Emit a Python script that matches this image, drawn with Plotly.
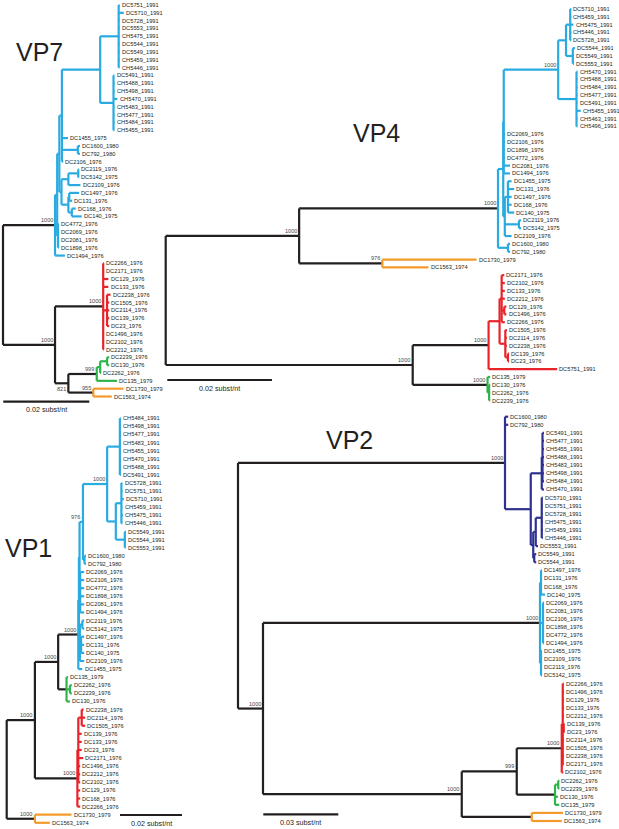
import re
import plotly.graph_objects as go

W, H = 619, 829

# ---------------- data: four trees in extended Newick ----------------
# branch lengths in substitutions/nt, internal labels = bootstrap support,
# [&c=...] marks the clade whose interior is coloured
VP7_TREE = """
(
 (
  (
   (
    (
     ((DC5751_1991:0.0002,DC5710_1991:0.0012,DC5728_1991:0.0002,DC5553_1991:0.0002,CH5475_1991:0.0002,
       DC5544_1991:0.0002,DC5549_1991:0.0002,CH5459_1991:0.0002,CH5446_1991:0.0002):0.0043,
      (DC5491_1991:0.0002,CH5488_1991:0.0002,CH5498_1991:0.0002,CH5470_1991:0.0009,CH5483_1991:0.0002,
       CH5477_1991:0.0002,CH5484_1991:0.0002,CH5455_1991:0.0002):0.0031):0.0089,
     DC1455_1975:0.0014,
     (DC1600_1980:0.0005,DC792_1980:0.0005):0.0037,
     DC2106_1976:0.0003
    ):0.0006,
    (
     ((DC2119_1976:0.0002,DC5142_1975:0.0002):0.0023,DC2109_1976:0.0028):0.0016,
     ((DC1497_1976:0.0023,DC131_1976:0.0007):0.0002,(DC168_1976:0.0009,DC140_1975:0.0023):0.0008):0.0016
    ):0.0005
   ):0.0005,
   (DC4772_1976:0.0002,DC2069_1976:0.0002,DC2081_1976:0.0002,DC1898_1976:0.0002):0.0002
  ):0.0005,
  DC1494_1976:0.0023
 )1000[&c=blue]:0.0121,
 (
  (DC2266_1976:0.0002,DC2171_1976:0.0002,DC129_1976:0.0012,DC133_1976:0.0012,
   (DC2238_1976:0.0008,DC1505_1976:0.0005,DC2114_1976:0.0005,DC139_1976:0.0005,DC23_1976:0.0005):0.0009,
   DC1496_1976:0.0002,DC2102_1976:0.0002,DC2212_1976:0.0002)1000[&c=red]:0.0112,
  (
   (((DC2239_1976:0.0005,DC130_1976:0.0005):0.0016,DC2262_1976:0.0002):0.0008,DC135_1979:0.0047)999[&c=green]:0.0066,
   (DC1730_1979:0.0070,DC1563_1974:0.0043)955[&c=orange]:0.0058
  )821:0.0031
 )1000:0.0121
);
"""

VP4_TREE = """
(
 (
  (
   (
    (
     (
      ((DC5710_1991:0.0002,CH5459_1991:0.0002,CH5475_1991:0.0006,CH5446_1991:0.0002,DC5728_1991:0.0002):0.0008,
       (DC5544_1991:0.0004,DC5549_1991:0.0002,DC5553_1991:0.0002):0.0013):0.0015,
      (CH5470_1991:0.0002,CH5488_1991:0.0002,CH5484_1991:0.0002,CH5477_1991:0.0002,DC5491_1991:0.0002,
       CH5455_1991:0.0008,CH5463_1991:0.0002,CH5496_1991:0.0002):0.0035
     )1000:0.0104,
     DC2069_1976:0.0002,DC2106_1976:0.0002,DC1898_1976:0.0002,DC4772_1976:0.0002,DC2081_1976:0.0012,DC1494_1976:0.0012
    ):0.0001,
    ((DC1455_1975:0.0007,DC131_1976:0.0012,DC1497_1976:0.0007,DC168_1976:0.0007,DC140_1975:0.0012):0.0006,
     (DC2119_1976:0.0004,DC5142_1975:0.0004):0.0027,DC2109_1976:0.0013):0.0003
   ):0.0010,
   (DC1600_1980:0.0004,DC792_1980:0.0004):0.0019
  )1000[&c=blue]:0.0380,
  (DC1730_1979:0.0180,DC1563_1974:0.0088)976[&c=orange]:0.0159
 )1000:0.0255,
 (
  (
   (
    (DC2171_1976:0.0005,DC2102_1976:0.0006,DC133_1976:0.0006,DC2212_1976:0.0006,
     (DC129_1976:0.0004,DC1496_1976:0.0004):0.0005,DC2266_1976:0.0006):0.0004,
    (DC1505_1976:0.0003,DC2114_1976:0.0003,DC2238_1976:0.0003,(DC139_1976:0.0002,DC23_1976:0.0002):0.0005):0.0011
   ):0.0021,
   DC5751_1991:0.0131
  )1000[&c=red]:0.0145,
  (DC135_1979:0.0005,(DC130_1976:0.0002,DC2262_1976:0.0002,DC2239_1976:0.0002):0.0003)1000[&c=green]:0.0143
 )1000:0.0472
);
"""

VP1_TREE = """
(
 (
  (
   (
    (
     (
      (
       ((CH5484_1991:0.0003,CH5498_1991:0.0003,CH5477_1991:0.0003,CH5483_1991:0.0003,CH5455_1991:0.0003,
         CH5470_1991:0.0003,CH5488_1991:0.0003,DC5491_1991:0.0003):0.0041,
        ((DC5728_1991:0.0003,DC5751_1991:0.0003,DC5710_1991:0.0008,CH5459_1991:0.0003,CH5475_1991:0.0005,
          CH5446_1991:0.0003):0.0018,
         (DC5549_1991:0.0003,DC5544_1991:0.0003,DC5553_1991:0.0003):0.0029):0.0028
       )1000:0.0078,
       (DC1600_1980:0.0005,DC792_1980:0.0005):0.0005
      )976:0.0011,
      (DC2069_1976:0.0013,DC2106_1976:0.0013,DC4772_1976:0.0013,DC1898_1976:0.0013,DC2081_1976:0.0013,
       DC1494_1976:0.0013):0.0002
     ):0.0002,
     ((DC2119_1976:0.0006,DC5142_1975:0.0006):0.0008,(DC1497_1976:0.0010,DC131_1976:0.0010,DC140_1975:0.0010):0.0004,
      DC2109_1976:0.0014):0.0003
    ):0.0002,
    DC1455_1975:0.0013
   )1000[&c=blue]:0.0065,
   (DC135_1979:0.0005,(DC2262_1976:0.0006,DC2239_1976:0.0006):0.0011,DC130_1976:0.0011)[&c=green]:0.0027
  )1000:0.0075,
  (
   ((DC2238_1976:0.0006,DC2114_1976:0.0011,DC1505_1976:0.0011):0.0011,DC139_1976:0.0011,DC133_1976:0.0011,
    DC23_1976:0.0011,DC2171_1976:0.0016,DC1496_1976:0.0006,DC2212_1976:0.0006,DC2102_1976:0.0006):0.0003,
   DC129_1976:0.0009,DC168_1976:0.0009,DC2266_1976:0.0009
  )1000[&c=red]:0.0137
 )1000:0.0091,
 (DC1730_1979:0.0118,DC1563_1974:0.0048)1000[&c=orange]:0.0091
);
"""

VP2_TREE = """
(
 (DC1600_1980:0.0013,DC792_1980:0.0013,
  (
   ((DC5491_1991:0.0006,CH5477_1991:0.0006,CH5455_1991:0.0006,CH5488_1991:0.0006,CH5483_1991:0.0006,
     CH5498_1991:0.0006,CH5484_1991:0.0006):0.0003,CH5470_1991:0.0009):0.0044,
   (
    ((DC5710_1991:0.0004,DC5751_1991:0.0004,DC5728_1991:0.0004,CH5475_1991:0.0004,CH5459_1991:0.0004,
      CH5446_1991:0.0004):0.0024,DC5553_1991:0.0009):0.0010,
    (DC5549_1991:0.0008,DC5544_1991:0.0008):0.0004
   ):0.0010
  ):0.0103
 )1000[&c=navy]:0.1068,
 (
  ((DC1497_1976:0.0004,DC131_1976:0.0004,DC168_1976:0.0004,DC140_1975:0.0016):0.0004,
   (DC2069_1976:0.0004,DC2081_1976:0.0004,DC2106_1976:0.0004,DC1898_1976:0.0004,DC4772_1976:0.0004,
    DC1494_1976:0.0004):0.0012,
   (DC1455_1975:0.0004,DC2109_1976:0.0004,DC2119_1976:0.0004,DC5142_1975:0.0004):0.0004)1000[&c=blue]:0.1108,
  (
   (
    ((DC2266_1976:0.0004,DC1496_1976:0.0004,DC129_1976:0.0004,DC133_1976:0.0004,DC2212_1976:0.0004,
      (DC139_1976:0.0003,DC23_1976:0.0003):0.0004,DC2114_1976:0.0004,DC1505_1976:0.0004,DC2238_1976:0.0004,
      DC2171_1976:0.0004):0.0004,DC2102_1976:0.0006)1000[&c=red]:0.0180,
    ((DC2262_1976:0.0004,DC2239_1976:0.0004):0.0013,DC130_1976:0.0012,DC135_1979:0.0017)[&c=green]:0.0153
   )999:0.0220,
   (DC1730_1979:0.0125,DC1563_1974:0.0120)[&c=orange]:0.0280
  )1000:0.0795
 )1000:0.0100
);
"""

PANELS = ["VP7", "VP4", "VP1", "VP2"]
TREES = {"VP7": VP7_TREE, "VP4": VP4_TREE, "VP1": VP1_TREE, "VP2": VP2_TREE}
SCALE_LENGTH = {"VP7": 0.02, "VP4": 0.02, "VP1": 0.02, "VP2": 0.03}
SCALE_TEXT = {"VP7": "0.02 subst/nt", "VP4": "0.02 subst/nt", "VP1": "0.02 subst/nt", "VP2": "0.03 subst/nt"}

# ---------------- styling / placement ----------------
COLOURS = {"black": "#231F20", "blue": "#29ABE2", "red": "#E8232A", "green": "#2FB34B",
           "orange": "#F39A2B", "navy": "#2E3192"}
FONT = "Liberation Sans, Arial, Helvetica, sans-serif"

# page placement: root x (px), px per subst/nt, first leaf y, leaf spacing
GEOM = {
    "VP7": dict(x0=3.0, ppu=4300, y0=5.0, dy=7.83, title=(39, 52), bar=(3.3, 401.7)),
    "VP4": dict(x0=165.7, ppu=5233, y0=9.0, dy=7.83, title=(376, 132.5), bar=(167.3, 380.0)),
    "VP1": dict(x0=6.7, ppu=3100, y0=418.3, dy=8.09, title=(28.5, 547.5), bar=(120.0, 815.0)),
    "VP2": dict(x0=238.0, ppu=2500, y0=416.7, dy=8.086, title=(349.5, 439.5), bar=(263.3, 814.3)),
}
LABEL_BELOW = {("VP7", "821")}


def parse_newick(text):
    s = "".join(text.split())
    pos = 0

    def node():
        nonlocal pos
        n = {"children": [], "name": "", "len": 0.0, "tag": None}
        if s[pos] == "(":
            pos += 1
            n["children"].append(node())
            while s[pos] == ",":
                pos += 1
                n["children"].append(node())
            assert s[pos] == ")", s[pos - 20:pos + 20]
            pos += 1
        start = pos
        while s[pos] not in ":,()[;":
            pos += 1
        n["name"] = s[start:pos]
        if s[pos] == "[":
            end = s.index("]", pos)
            m = re.search(r"c=(\w+)", s[pos:end])
            n["tag"] = m.group(1) if m else None
            pos = end + 1
        if s[pos] == ":":
            pos += 1
            start = pos
            while s[pos] not in ",();":
                pos += 1
            n["len"] = float(s[start:pos])
        return n

    return node()


def lay_out(root):
    leaves, internals = [], []

    def walk(n, x):
        n["x"] = x + n["len"]
        if n["children"]:
            for c in n["children"]:
                walk(c, n["x"])
            n["y"] = (n["children"][0]["y"] + n["children"][-1]["y"]) / 2.0
            internals.append(n)
        else:
            n["y"] = float(len(leaves))
            leaves.append(n)

    root["len"] = 0.0
    walk(root, 0.0)
    return leaves, internals


def collect_segments(n, inherited, out):
    inside = n["tag"] or inherited
    if not n["children"]:
        return
    col = inside or "black"
    ys = [c["y"] for c in n["children"]]
    seg = out.setdefault(col, ([], []))
    seg[0].extend([n["x"], n["x"], None])
    seg[1].extend([min(ys), max(ys), None])
    for c in n["children"]:
        seg[0].extend([n["x"], c["x"], None])
        seg[1].extend([c["y"], c["y"], None])
        collect_segments(c, inside, out)


fig = go.Figure()
annotations = []
layout_axes = {}

for k, panel in enumerate(PANELS, start=1):
    g = GEOM[panel]
    xa, ya = ("x", "y") if k == 1 else (f"x{k}", f"y{k}")
    xkey, ykey = ("xaxis", "yaxis") if k == 1 else (f"xaxis{k}", f"yaxis{k}")
    layout_axes[xkey] = dict(domain=[0, 1], range=[-g["x0"] / g["ppu"], (W - g["x0"]) / g["ppu"]],
                             visible=False, fixedrange=True, anchor=ya)
    layout_axes[ykey] = dict(domain=[0, 1], range=[(H - g["y0"]) / g["dy"], -g["y0"] / g["dy"]],
                             visible=False, fixedrange=True, anchor=xa)

    root = parse_newick(TREES[panel])
    leaves, internals = lay_out(root)
    segs = {}
    collect_segments(root, None, segs)
    order = ["black"] + [c for c in segs if c != "black"]
    for col in order:
        if col not in segs:
            continue
        xs, ys = segs[col]
        fig.add_trace(go.Scatter(x=xs, y=ys, mode="lines", xaxis=xa, yaxis=ya,
                                 line=dict(color=COLOURS[col], width=2.2),
                                 hoverinfo="skip", showlegend=False))

    for lf in leaves:
        annotations.append(dict(x=lf["x"], y=lf["y"], xref=xa, yref=ya, text=lf["name"],
                                showarrow=False, xanchor="left", yanchor="middle", xshift=1.2,
                                borderpad=0, font=dict(family=FONT, size=5.7, color="#231F20")))
    for nd in internals:
        if nd["name"]:
            below = (panel, nd["name"]) in LABEL_BELOW
            annotations.append(dict(x=nd["x"], y=nd["y"], xref=xa, yref=ya, text=nd["name"],
                                    showarrow=False, xanchor="right",
                                    yanchor="top" if below else "bottom",
                                    xshift=-1.5, yshift=-1.5 if below else 1.0, borderpad=0,
                                    font=dict(family=FONT, size=5.6, color="#4A4A4A")))

    # scale bar
    bx = (g["bar"][0] - g["x0"]) / g["ppu"]
    by = (g["bar"][1] - g["y0"]) / g["dy"]
    L = SCALE_LENGTH[panel]
    fig.add_trace(go.Scatter(x=[bx, bx + L], y=[by, by], mode="lines", xaxis=xa, yaxis=ya,
                             line=dict(color=COLOURS["black"], width=2.2),
                             hoverinfo="skip", showlegend=False))
    annotations.append(dict(x=bx + L / 2, y=by, xref=xa, yref=ya, text=SCALE_TEXT[panel],
                            showarrow=False, xanchor="center", yanchor="top", yshift=-2.5,
                            borderpad=0, font=dict(family=FONT, size=7.2, color="#231F20")))

    # panel title
    annotations.append(dict(x=g["title"][0] / W, y=1 - g["title"][1] / H, xref="paper", yref="paper",
                            text=panel, showarrow=False, xanchor="center", yanchor="middle",
                            font=dict(family=FONT, size=25, color="#231F20")))

fig.update_layout(width=W, height=H, margin=dict(l=0, r=0, t=0, b=0),
                  paper_bgcolor="white", plot_bgcolor="rgba(0,0,0,0)",
                  showlegend=False, annotations=annotations, **layout_axes)

fig.write_html("out.html", config={"displayModeBar": False, "staticPlot": True},
               post_script="document.body.style.margin='0';document.body.style.overflow='hidden';")
